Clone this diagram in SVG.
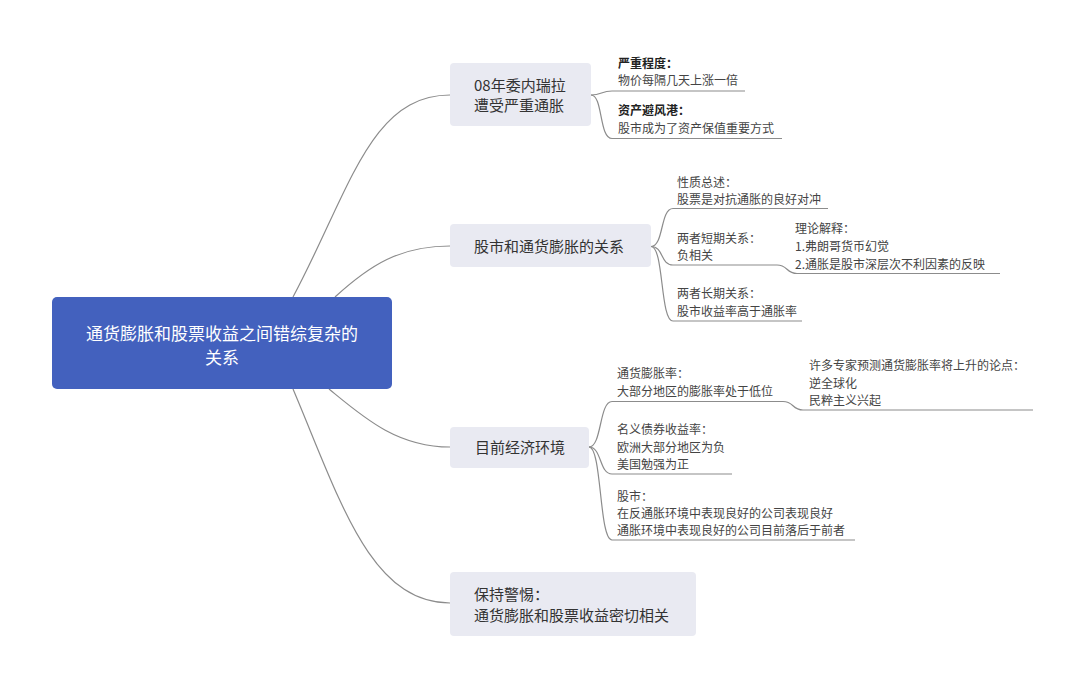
<svg xmlns="http://www.w3.org/2000/svg" width="1080" height="682" viewBox="0 0 1080 682">
<style>
.bg{fill:#ffffff}
.root{fill:#4361BE}
.main{fill:#E9EAF2}
.rt{font-family:"Noto Sans CJK SC","Liberation Sans",sans-serif;font-size:17px;fill:#ffffff;text-anchor:middle}
.mt{font-family:"Noto Sans CJK SC","Liberation Sans",sans-serif;font-size:15px;fill:#333333}
.ct{font-family:"Noto Sans CJK SC","Liberation Sans",sans-serif;font-size:12px;fill:#444444}
.b{font-weight:bold;fill:#222222}
.ln{fill:none;stroke:#8c8c8c;stroke-width:1.2}
</style>
<rect class="bg" x="0" y="0" width="1080" height="682"/>
<g id="connectors">
<path class="ln" d="M293,297 C350,190 370,95 450,95"/>
<path class="ln" d="M335,297 C370,265 400,246 450,246"/>
<path class="ln" d="M329,389 C362,416 396,447 450,447"/>
<path class="ln" d="M293,389 C340,500 370,603 450,603"/>
<path class="ln" d="M591,95 C602,95 601,91 612,91 L745,91"/>
<path class="ln" d="M591,95 C603,95 599,138.5 612,138.5 L782,138.5"/>
<path class="ln" d="M651,246.5 C664,246.5 660,208.5 673,208.5 L828,208.5"/>
<path class="ln" d="M651,246.5 C664,246.5 660,265 673,265 L777,265 C788,265 786,273.5 797,273.5 L1000,273.5"/>
<path class="ln" d="M651,246.5 C664,246.5 660,321 673,321 L802,321"/>
<path class="ln" d="M589,447 C602,447 599,401.5 612,401.5 L783,401.5 C794,401.5 792,410 803,410 L1033,410"/>
<path class="ln" d="M589,447 C602,447 599,474 612,474 L732,474"/>
<path class="ln" d="M589,447 C602,447 599,540 612,540 L855,540"/>
</g>
<g id="root">
<rect class="root" x="52" y="297" width="340" height="92" rx="5"/>
<text class="rt" x="222" y="339.5">通货膨胀和股票收益之间错综复杂的</text>
<text class="rt" x="222" y="363.5">关系</text>
</g>
<g id="node1">
<rect class="main" x="450" y="63" width="141" height="63" rx="4"/>
<text class="mt" x="474" y="90.5">08年委内瑞拉</text>
<text class="mt" x="474" y="111">遭受严重通胀</text>
</g>
<g id="node1-1">
<text class="ct b" x="618" y="67.5">严重程度：</text>
<text class="ct" x="618" y="84.5">物价每隔几天上涨一倍</text>
</g>
<g id="node1-2">
<text class="ct b" x="618" y="115">资产避风港：</text>
<text class="ct" x="618" y="132.5">股市成为了资产保值重要方式</text>
</g>
<g id="node2">
<rect class="main" x="450" y="224" width="201" height="43" rx="4"/>
<text class="mt" x="474" y="251.5">股市和通货膨胀的关系</text>
</g>
<g id="node2-1">
<text class="ct" x="677" y="186.5">性质总述：</text>
<text class="ct" x="677" y="203.5">股票是对抗通胀的良好对冲</text>
</g>
<g id="node2-2">
<text class="ct" x="677" y="242.5">两者短期关系：</text>
<text class="ct" x="677" y="260">负相关</text>
</g>
<g id="node2-2-1">
<text class="ct" x="795" y="232.5">理论解释：</text>
<text class="ct" x="795" y="250.5">1.弗朗哥货币幻觉</text>
<text class="ct" x="795" y="268.5">2.通胀是股市深层次不利因素的反映</text>
</g>
<g id="node2-3">
<text class="ct" x="677" y="297.5">两者长期关系：</text>
<text class="ct" x="677" y="315.5">股市收益率高于通胀率</text>
</g>
<g id="node3">
<rect class="main" x="450" y="427" width="139" height="41" rx="4"/>
<text class="mt" x="475" y="452.5">目前经济环境</text>
</g>
<g id="node3-1">
<text class="ct" x="617" y="377.5">通货膨胀率：</text>
<text class="ct" x="617" y="395.5">大部分地区的膨胀率处于低位</text>
</g>
<g id="node3-1-1">
<text class="ct" x="809" y="369.5">许多专家预测通货膨胀率将上升的论点：</text>
<text class="ct" x="809" y="387.5">逆全球化</text>
<text class="ct" x="809" y="405">民粹主义兴起</text>
</g>
<g id="node3-2">
<text class="ct" x="617" y="434">名义债券收益率：</text>
<text class="ct" x="617" y="451.7">欧洲大部分地区为负</text>
<text class="ct" x="617" y="469">美国勉强为正</text>
</g>
<g id="node3-3">
<text class="ct" x="617" y="500.5">股市：</text>
<text class="ct" x="617" y="517.5">在反通胀环境中表现良好的公司表现良好</text>
<text class="ct" x="617" y="535">通胀环境中表现良好的公司目前落后于前者</text>
</g>
<g id="node4">
<rect class="main" x="450" y="572" width="246" height="64" rx="4"/>
<text class="mt" x="474" y="599.5">保持警惕：</text>
<text class="mt" x="474" y="620.5">通货膨胀和股票收益密切相关</text>
</g>
</svg>
